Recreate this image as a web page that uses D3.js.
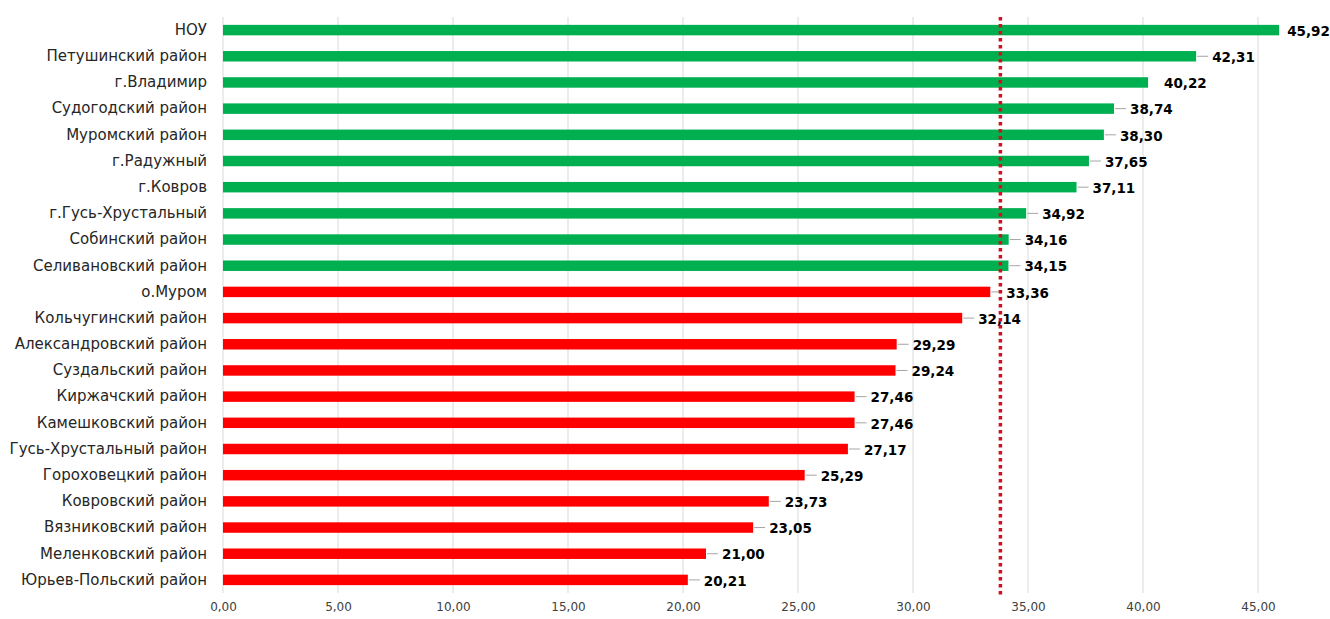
<!DOCTYPE html>
<html>
<head>
<meta charset="utf-8">
<script src="https://cdn.jsdelivr.net/npm/d3@7"></script>
<style>
  body { margin: 0; background: #fff; }
  #graf { width: 1330px; height: 619px; }
</style>
</head>
<body>
<div id="graf"></div>
<script>
// районы сверху вниз, значения по порядку
const rayony = [
  'НОУ', 'Петушинский район', 'г.Владимир', 'Судогодский район', 'Муромский район',
  'г.Радужный', 'г.Ковров', 'г.Гусь-Хрустальный', 'Собинский район', 'Селивановский район',
  'о.Муром', 'Кольчугинский район', 'Александровский район', 'Суздальский район',
  'Киржачский район', 'Камешковский район', 'Гусь-Хрустальный район', 'Гороховецкий район',
  'Ковровский район', 'Вязниковский район', 'Меленковский район', 'Юрьев-Польский район'
]
const znacheniya = [
  45.92, 42.31, 40.22, 38.74, 38.30, 37.65, 37.11, 34.92, 34.16, 34.15,
  33.36, 32.14, 29.29, 29.24, 27.46, 27.46, 27.17, 25.29, 23.73, 23.05, 21.00, 20.21
]
const srednee = 33.8
const xTicks = [0, 5, 10, 15, 20, 25, 30, 35, 40, 45]

const anchoTotal = 1330
const altoTotal = 619
const margin = { top: 17, right: 72, bottom: 26, left: 223 }
const ancho = anchoTotal - margin.left - margin.right
const alto = altoTotal - margin.top - margin.bottom

const fmt = (v) => v.toFixed(2).replace('.', ',')

const svg = d3.select('#graf')
  .append('svg')
  .attr('width', anchoTotal)
  .attr('height', altoTotal)

const g = svg.append('g')
  .attr('transform', `translate(${margin.left}, ${margin.top})`)

const x = d3.scaleLinear().domain([0, 45]).range([0, ancho])
const y = d3.scaleBand().domain(rayony).range([0, alto]).paddingInner(0.6).paddingOuter(0.3)

// сетка
g.selectAll('.grid')
  .data(xTicks)
  .join('line')
  .attr('x1', (d) => x(d))
  .attr('x2', (d) => x(d))
  .attr('y1', 0)
  .attr('y2', alto)
  .attr('stroke', '#d9d9d9')
  .attr('stroke-width', 1)

// ось X
const xAxis = g.append('g')
  .attr('transform', `translate(0, ${alto})`)
  .call(d3.axisBottom(x).tickValues(xTicks).tickFormat(fmt).tickSize(0).tickPadding(9))
xAxis.select('.domain').remove()
xAxis.selectAll('text')
  .style('font-family', 'DejaVu Sans, sans-serif')
  .style('font-size', '12px')
  .attr('fill', '#404040')

// ось Y
const yAxis = g.append('g')
  .call(d3.axisLeft(y).tickSize(0).tickPadding(16))
yAxis.select('.domain').remove()
yAxis.selectAll('text')
  .style('font-family', 'DejaVu Sans, sans-serif')
  .style('font-size', '15px')
  .attr('fill', '#262626')

// столбцы
const data = rayony.map((r, i) => ({ r, v: znacheniya[i] }))

g.selectAll('.bar')
  .data(data)
  .join('rect')
  .attr('x', 0)
  .attr('y', (d) => y(d.r))
  .attr('width', (d) => x(d.v))
  .attr('height', y.bandwidth())
  .attr('fill', (d) => (d.v > srednee ? '#00b050' : '#ff0000'))

// выноски
g.selectAll('.leader')
  .data(data.filter((d, i) => i !== 0 && i !== 2))
  .join('line')
  .attr('x1', (d) => x(d.v) + 1)
  .attr('x2', (d) => x(d.v) + 12)
  .attr('y1', (d) => y(d.r) + y.bandwidth() / 2)
  .attr('y2', (d) => y(d.r) + y.bandwidth() / 2)
  .attr('stroke', '#a6a6a6')
  .attr('stroke-width', 1)

g.selectAll('.lbl')
  .data(data)
  .join('text')
  .attr('x', (d) => x(d.v) + (d.v > 45 ? 8 : 16))
  .attr('y', (d) => y(d.r) + y.bandwidth() / 2 + 1)
  .attr('dy', '0.35em')
  .style('font-family', 'DejaVu Sans, sans-serif')
  .style('font-weight', 'bold')
  .style('font-size', '13.5px')
  .attr('fill', '#000')
  .text((d) => fmt(d.v))

// среднее значение
g.append('line')
  .attr('x1', x(srednee))
  .attr('x2', x(srednee))
  .attr('y1', 0)
  .attr('y2', alto + 2)
  .attr('stroke', '#d0101c')
  .attr('stroke-width', 3.5)
  .attr('stroke-dasharray', '3.5,3.5')
</script>
</body>
</html>
